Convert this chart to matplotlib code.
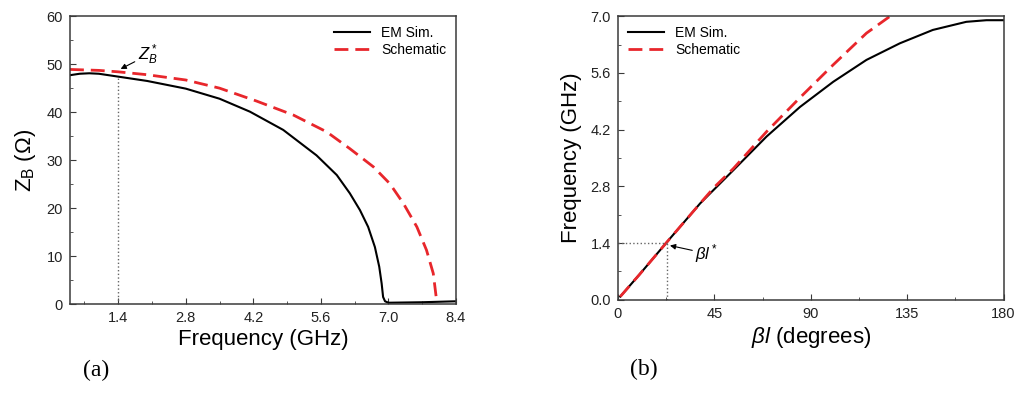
import numpy as np
import matplotlib.pyplot as plt
from matplotlib.ticker import MultipleLocator

plt.rcParams['font.family'] = ['Liberation Sans', 'DejaVu Sans']
plt.rcParams['mathtext.fontset'] = 'custom'
plt.rcParams['mathtext.rm'] = 'Liberation Sans'
plt.rcParams['mathtext.it'] = 'Liberation Sans:italic'

# (a) Bloch impedance vs frequency
em_a_freq = [0.4, 0.6, 0.8, 1.0, 1.4, 2.0, 2.8, 3.5, 4.13, 4.82, 5.51, 5.93, 6.2, 6.41, 6.58, 6.72,
             6.81, 6.86, 6.89, 6.93, 7.0, 7.69, 8.4]
em_a_zb = [47.7, 48.0, 48.1, 48.0, 47.4, 46.5, 44.9, 42.8, 40.1, 36.3, 31.0, 26.9, 23.1, 19.6, 16.1, 11.9,
           7.8, 4.3, 1.5, 0.6, 0.3, 0.4, 0.6]
sch_a_freq = [0.4, 1.0, 1.4, 2.0, 2.8, 3.5, 4.27, 5.03, 5.72, 6.2, 6.69, 7.03, 7.31, 7.59, 7.79, 7.93, 7.99]
sch_a_zb = [48.9, 48.7, 48.4, 47.8, 46.7, 45.0, 42.3, 39.4, 35.9, 32.4, 28.6, 25.1, 21.0, 16.1, 11.25, 6.4, 1.5]

# (b) dispersion: frequency vs electrical length
em_b_deg = [1.1, 10, 22.8, 38.4, 53.9, 69.4, 85, 100.5, 116, 131.6, 147, 162.6, 172, 180]
em_b_freq = [0.08, 0.62, 1.42, 2.38, 3.2, 4.03, 4.76, 5.38, 5.92, 6.33, 6.66, 6.86, 6.9, 6.9]
sch_b_deg = [1.1, 10, 22.8, 38.4, 45, 53.9, 69.4, 85, 100.5, 116, 127.6]
sch_b_freq = [0.08, 0.62, 1.42, 2.38, 2.78, 3.24, 4.15, 4.99, 5.8, 6.58, 7.02]

red = '#e8262b'
gray = '#3a3a3a'

fig = plt.figure(figsize=(10.23, 3.94), dpi=100)
ax1 = fig.add_axes([0.0684, 0.228, 0.3773, 0.731])
ax2 = fig.add_axes([0.604, 0.239, 0.377, 0.72])

for ax in (ax1, ax2):
    for s in ax.spines.values():
        s.set_color(gray)
        s.set_linewidth(1.1)
    ax.tick_params(which='both', direction='in', top=False, right=False, colors=gray,
                   labelsize=10.5, labelcolor='#222222')
    ax.tick_params(which='major', length=4, pad=5)
    ax.tick_params(which='minor', length=2.5)

# panel (a)
ax1.plot(em_a_freq, em_a_zb, color='black', lw=1.5, label='EM Sim.')
ax1.plot(sch_a_freq, sch_a_zb, color=red, lw=2, ls=(0, (5, 2.5)), label='Schematic')
ax1.plot([1.4, 1.4], [0, 47.4], color='#666666', lw=1, ls=':')
ax1.annotate(r'$Z_B^*$', xy=(1.45, 49.0), xytext=(1.8, 50.8), fontsize=12,
             arrowprops=dict(arrowstyle='-|>', color='black', lw=0.8, mutation_scale=8,
                             shrinkA=0, shrinkB=0))
ax1.set_xlim(0.4, 8.4)
ax1.set_ylim(0, 60)
ax1.xaxis.set_minor_locator(MultipleLocator(0.7))
ax1.yaxis.set_major_locator(MultipleLocator(10))
ax1.yaxis.set_minor_locator(MultipleLocator(5))
ax1.set_xticks([1.4, 2.8, 4.2, 5.6, 7.0, 8.4])
ax1.set_xticklabels(['1.4', '2.8', '4.2', '5.6', '7.0', '8.4'])
ax1.set_xlabel('Frequency (GHz)', fontsize=16, labelpad=3)
ax1.set_ylabel(r'Z$_\mathrm{B}$ (Ω)', fontsize=16, labelpad=6)
ax1.legend(loc='upper right', frameon=False, fontsize=10, handlelength=2.6,
           borderaxespad=0.3, labelspacing=0.2)

# panel (b)
ax2.plot(em_b_deg, em_b_freq, color='black', lw=1.5, label='EM Sim.')
ax2.plot(sch_b_deg, sch_b_freq, color=red, lw=2, ls=(0, (5, 2.5)), label='Schematic')
ax2.plot([0, 22.8], [1.4, 1.4], color='#666666', lw=1, ls=':')
ax2.plot([22.8, 22.8], [0, 1.4], color='#666666', lw=1, ls=':')
ax2.annotate(r'$\beta l^*$', xy=(24.3, 1.34), xytext=(36, 1.0), fontsize=12,
             arrowprops=dict(arrowstyle='-|>', color='black', lw=0.8, mutation_scale=8,
                             shrinkA=0, shrinkB=0))
ax2.set_xlim(0, 180)
ax2.set_ylim(0, 7.0)
ax2.xaxis.set_major_locator(MultipleLocator(45))
ax2.xaxis.set_minor_locator(MultipleLocator(22.5))
ax2.yaxis.set_major_locator(MultipleLocator(1.4))
ax2.yaxis.set_minor_locator(MultipleLocator(0.7))
ax2.yaxis.set_major_formatter(plt.FormatStrFormatter('%.1f'))
ax2.set_xlabel(r'$\beta l$ (degrees)', fontsize=16, labelpad=3)
ax2.set_ylabel('Frequency (GHz)', fontsize=16, labelpad=6)
ax2.legend(loc='upper left', frameon=False, fontsize=10, handlelength=2.6,
           borderaxespad=0.3, labelspacing=0.2)

fig.text(0.081, 0.045, '(a)', fontsize=17, family='Liberation Serif')
fig.text(0.616, 0.048, '(b)', fontsize=17, family='Liberation Serif')

fig.savefig('out.png', dpi=100)
